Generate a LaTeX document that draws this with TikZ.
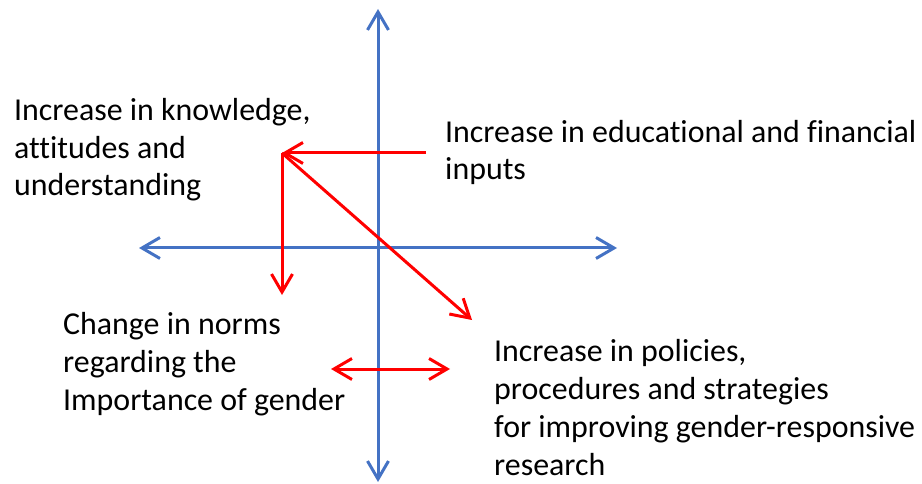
\documentclass[tikz,border=0pt]{standalone}
\usepackage{fontspec}
\setmainfont{Carlito}[Ligatures={NoCommon}]
\usetikzlibrary{arrows.meta}
\definecolor{axisblue}{HTML}{4472C4}
\definecolor{flowred}{HTML}{FF0000}
\begin{document}
\begin{tikzpicture}[x=1pt,y=-1pt,
  barb/.tip={Straight Barb[length=18pt,width=21pt]},
  axis/.style={draw=axisblue,line width=3pt,barb-barb},
  flow/.style={draw=flowred,line width=3pt,-barb},
  label/.style={anchor=base west,inner sep=0pt,align=left,font=\fontsize{31.9}{37.7}\selectfont}]
  \useasboundingbox (0,0) rectangle (922,484);
  % axes
  \coordinate (ytop) at (378,9);
  \coordinate (ybot) at (378,482);
  \coordinate (xleft) at (139,248);
  \coordinate (xright) at (617,248);
  \draw[axis] (ybot) -- (ytop);
  \draw[axis] (xleft) -- (xright);
  % labels (anchored at the baseline of their last line)
  \node[label] (know) at (14,196) {Increase in knowledge,\\attitudes and\\understanding};
  \node[label] (inputs) at (445,180) {Increase in educational and financial\\inputs};
  \node[label] (norms) at (63,410) {Change in norms\\regarding the\\Importance of gender};
  \node[label] (policy) at (494,475) {Increase in policies,\\procedures and strategies\\for improving gender-responsive\\research};
  % flows
  \coordinate (hub) at (282,153);
  \coordinate (inStart) at (426,153);
  \coordinate (downEnd) at (282,295);
  \coordinate (diagEnd) at (472,320);
  \coordinate (bothL) at (331,369);
  \coordinate (bothR) at (450,369);
  \draw[flow] (inStart) -- (hub);
  \draw[flow] (hub) -- (downEnd);
  \draw[flow] (hub) -- (diagEnd);
  \draw[flow,barb-barb] (bothL) -- (bothR);
\end{tikzpicture}
\end{document}
